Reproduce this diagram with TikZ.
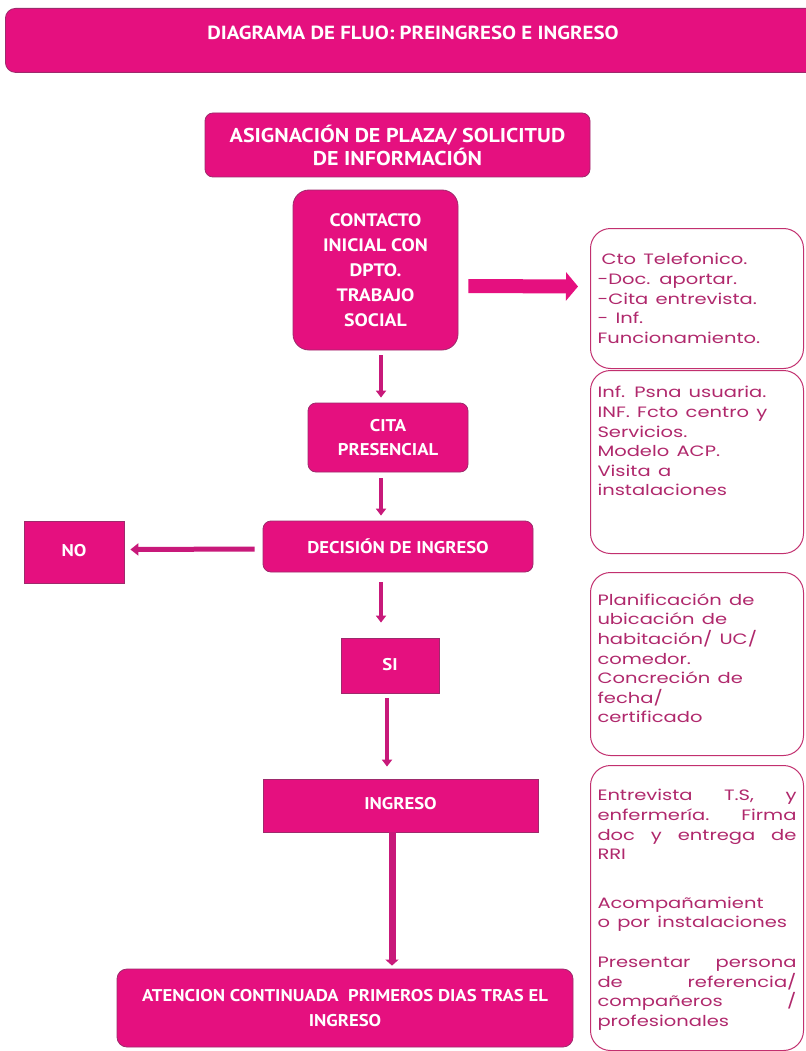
\documentclass[tikz,border=0pt]{standalone}
\usepackage{fontspec}
\setmainfont{Poppins}
\newfontfamily\hfont[FakeStretch=1.1]{PT Sans}
\newfontfamily\ifont[FakeStretch=1.3,WordSpace=1.4]{Poppins}
\usetikzlibrary{calc,arrows.meta}
\definecolor{pinkfill}{HTML}{E5107F}
\definecolor{pinkedge}{HTML}{9E2A6C}
\definecolor{arrowc}{HTML}{C8197A}
\definecolor{infoedge}{HTML}{C2306F}
\definecolor{infotext}{HTML}{B0286C}
\newcommand{\jline}[1]{\makebox[\linewidth][s]{#1}}
\begin{document}
\begin{tikzpicture}[x=1pt,y=-1pt,
  pinkbox/.style={fill=pinkfill, draw=pinkedge, line width=0.8pt, text=white,
    font=\hfont\bfseries\fontsize{17}{24.5}\selectfont, align=center, inner sep=0pt},
  info/.style={draw=infoedge, line width=1pt, rounded corners=20pt, text=infotext,
    inner sep=0pt, align=left, font=\ifont\fontsize{15}{19.6}\selectfont},
  thinarr/.style={draw=arrowc, line width=4pt, -{Triangle[width=10pt,length=7pt]}},
  noarr/.style={draw=arrowc, line width=5pt, -{Triangle[width=12pt,length=8pt]}},
  medarr/.style={draw=arrowc, line width=7pt, -{Triangle[width=13pt,length=6pt]}},
  bigarr/.style={draw=pinkfill, line width=14pt, -{Triangle[width=28pt,length=12pt]}}
]
\useasboundingbox (0,0) rectangle (805,1051);
\fill[white] (0,0) rectangle (805,1051);

% title
\node[pinkbox, rounded corners=10pt, minimum width=815pt, minimum height=64pt, anchor=north west] (title) at (5,8) {};
\node[text=white, font=\hfont\bfseries\fontsize{19}{22}\selectfont, inner sep=0pt] (titletxt) at (413,33)
  {DIAGRAMA DE FLUO: PREINGRESO E INGRESO};

% main flow
\node[pinkbox, rounded corners=8pt, minimum width=385pt, minimum height=64pt,
  font=\hfont\bfseries\fontsize{20}{23}\selectfont] (asig) at (397.5,145)
  {ASIGNACIÓN DE PLAZA/ SOLICITUD\\DE INFORMACIÓN};
\node[pinkbox, rounded corners=16pt, minimum width=165pt, minimum height=160pt,
  font=\hfont\bfseries\fontsize{18}{25}\selectfont] (contacto) at (375.5,270)
  {CONTACTO\\INICIAL CON\\DPTO.\\TRABAJO\\SOCIAL};
\node[pinkbox, rounded corners=8pt, minimum width=160pt, minimum height=69pt] (cita) at (388,437.5)
  {CITA\\PRESENCIAL};
\node[pinkbox, rounded corners=8pt, minimum width=270pt, minimum height=51pt] (decision) at (398,546.5)
  {DECISIÓN DE INGRESO};
\node[pinkbox, minimum width=100pt, minimum height=62pt] (no) at (74,552)
  {\raisebox{4pt}{NO}};
\node[pinkbox, minimum width=98pt, minimum height=55pt] (si) at (390,665.5) {\raisebox{2pt}{SI}};
\node[pinkbox, minimum width=275pt, minimum height=53pt] (ingreso) at (400.5,805.5)
  {\raisebox{5pt}{INGRESO}};
\node[pinkbox, rounded corners=10pt, minimum width=456pt, minimum height=78pt] (atencion) at (345,1008)
  {ATENCION CONTINUADA \ PRIMEROS DIAS TRAS EL\\INGRESO};

% info boxes
\node[info, minimum width=213pt, minimum height=140pt, anchor=north west] (i1) at (590,228)
  {\parbox[c][140pt][c]{199pt}{\hspace*{4pt}Cto Telefonico.\\-Doc. aportar.\\-Cita entrevista.\\- Inf.\\Funcionamiento.}};
\node[info, minimum width=213pt, minimum height=183pt, anchor=north west] (i2) at (590,370)
  {\parbox[c][183pt][t]{199pt}{\vspace*{16pt}Inf. Psna usuaria.\\INF. Fcto centro y\\Servicios.\\Modelo ACP.\\Visita a\\instalaciones}};
\node[info, minimum width=213pt, minimum height=183pt, anchor=north west] (i3) at (590,572)
  {\parbox[c][183pt][t]{199pt}{\vspace*{21pt}Planificación de\\ubicación de\\habitación/ UC/\\comedor.\\Concreción de\\fecha/\\certificado}};
\node[info, minimum width=213pt, minimum height=285pt, anchor=north west] (i4) at (590,765)
  {\parbox[c][285pt][t]{199pt}{\vspace*{24pt}\jline{Entrevista T.S, y}\\\jline{enfermería. Firma}\\\jline{doc y entrega de}\\RRI\\[29pt]Acompañamient\\o por instalaciones\\[20pt]\jline{Presentar persona}\\\jline{de referencia/}\\\jline{compañeros /}\\profesionales}};

% connectors
\draw[bigarr] ($(contacto.east)+(10,16)$) -- ($(i1.west)+(-12,-12)$);
\draw[thinarr] ($(contacto.south)+(5.5,5)$) -- ($(cita.north)+(-7,-5)$);
\draw[thinarr] ($(cita.south)+(-7,6)$) -- ($(decision.north)+(-17,-5)$);
\draw[noarr] ($(decision.west)+(-8,2.5)$) -- ($(no.east)+(6,-2.5)$);
\draw[thinarr] ($(decision.south)+(-17,10)$) -- ($(si.north)+(-9,-15)$);
\draw[thinarr] ($(si.south)+(-3,5)$) -- ($(ingreso.north)+(-13.5,-12)$);
\draw[medarr] ($(ingreso.south)+(-8.5,0)$) -- ($(atencion.north)+(47,-3)$);
\end{tikzpicture}
\end{document}
